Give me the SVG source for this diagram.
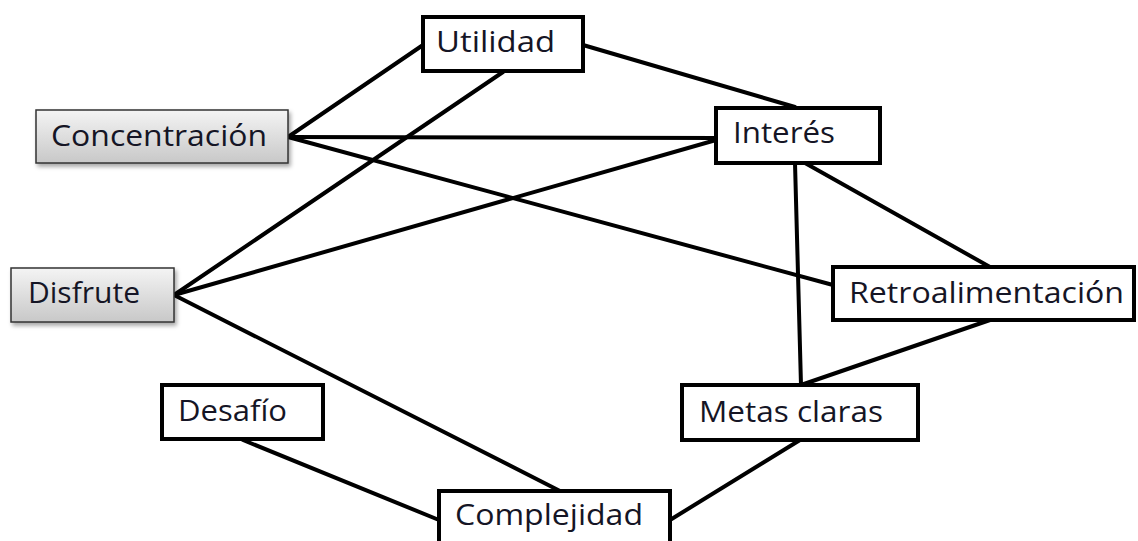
<svg xmlns="http://www.w3.org/2000/svg" width="1138" height="541" viewBox="0 0 1138 541">
<defs>
<linearGradient id="g" x1="0" y1="0" x2="0" y2="1">
<stop offset="0" stop-color="#f4f4f4"/>
<stop offset="1" stop-color="#c8c8c8"/>
</linearGradient>
<filter id="sh" x="-10%" y="-20%" width="125%" height="150%">
<feDropShadow dx="2" dy="3" stdDeviation="2" flood-color="#000" flood-opacity="0.35"/>
</filter>
<style>
.t{font-family:"Open Sans","Noto Sans",sans-serif;font-size:29px;fill:#151525}
.w{fill:#fff;stroke:#000;stroke-width:4}
.gr{fill:url(#g);stroke:#333;stroke-width:1.5;filter:url(#sh)}
.c line{stroke:#000;stroke-width:4;stroke-linecap:round}
</style>
</defs>
<rect width="1138" height="541" fill="#fff"/>
<g class="c" id="connectors">
<line x1="288" y1="137" x2="423" y2="45"/>
<line x1="583" y1="45" x2="795" y2="107"/>
<line x1="503" y1="72" x2="174" y2="295"/>
<line x1="288" y1="137" x2="716" y2="138"/>
<line x1="288" y1="137" x2="833" y2="285"/>
<line x1="174" y1="295" x2="716" y2="140"/>
<line x1="174" y1="295" x2="560" y2="491"/>
<line x1="795" y1="163" x2="801" y2="385"/>
<line x1="805" y1="163" x2="990" y2="267"/>
<line x1="990" y1="320" x2="801" y2="385"/>
<line x1="243" y1="440" x2="439" y2="520"/>
<line x1="800" y1="440" x2="670" y2="520"/>
</g>
<g id="concentracion">
<rect class="gr" x="36" y="110" width="252" height="53"/>
<text class="t" x="51" y="146" textLength="216" lengthAdjust="spacingAndGlyphs">Concentración</text>
</g>
<g id="disfrute">
<rect class="gr" x="11" y="268" width="163" height="54"/>
<text class="t" x="28" y="303" textLength="112" lengthAdjust="spacingAndGlyphs">Disfrute</text>
</g>
<g id="utilidad">
<rect class="w" x="423" y="17" width="160" height="54"/>
<text class="t" x="436" y="52" textLength="119" lengthAdjust="spacingAndGlyphs">Utilidad</text>
</g>
<g id="interes">
<rect class="w" x="716" y="108" width="164" height="55"/>
<text class="t" x="733" y="143" textLength="102" lengthAdjust="spacingAndGlyphs">Interés</text>
</g>
<g id="retroalimentacion">
<rect class="w" x="833" y="267" width="301" height="53"/>
<text class="t" x="849" y="303" textLength="275" lengthAdjust="spacingAndGlyphs">Retroalimentación</text>
</g>
<g id="metas">
<rect class="w" x="682" y="385" width="236" height="55"/>
<text class="t" x="699" y="422" textLength="184" lengthAdjust="spacingAndGlyphs">Metas claras</text>
</g>
<g id="desafio">
<rect class="w" x="162" y="385" width="161" height="54"/>
<text class="t" x="178" y="421" textLength="109" lengthAdjust="spacingAndGlyphs">Desafío</text>
</g>
<g id="complejidad">
<rect class="w" x="439" y="491" width="231" height="60"/>
<text class="t" x="455" y="525" textLength="188" lengthAdjust="spacingAndGlyphs">Complejidad</text>
</g>
</svg>
